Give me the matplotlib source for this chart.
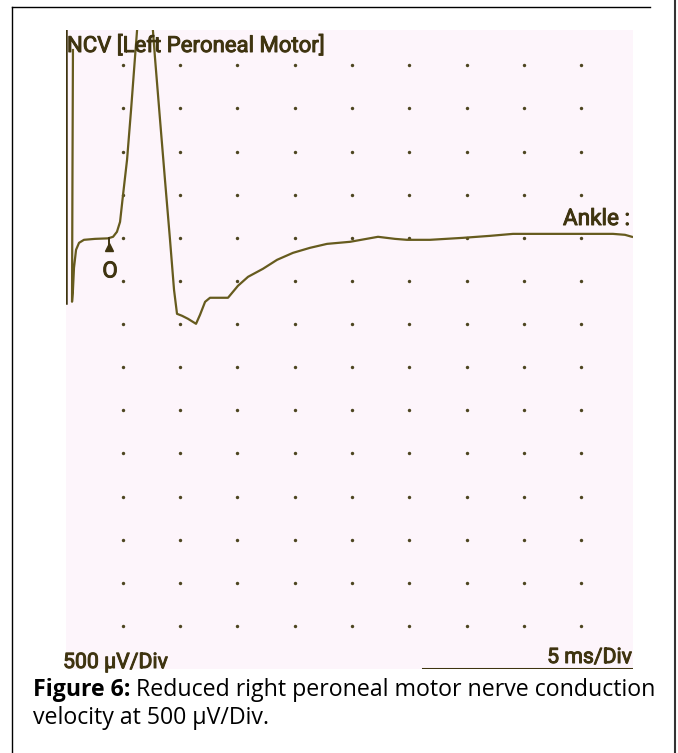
import numpy as np
import matplotlib.pyplot as plt
import matplotlib.patheffects as pe
from matplotlib.lines import Line2D

# trace: time (ms) and amplitude (uV, baseline = 0)
t_ms = [0.65, 0.61, 0.57, 0.65, 0.74, 0.92, 1.18, 1.61, 2.57, 3.71, 4.15, 4.49,
        4.76, 5.02, 5.37, 5.72, 6.06, 6.94, 7.81, 8.25, 8.68, 9.12, 9.47, 9.73,
        10.17, 10.69, 11.39, 11.74, 12.18, 12.61, 13.48, 14.18, 15.05, 15.93,
        17.23, 18.46, 19.85, 21.33, 22.82, 24.83, 27.27, 28.75, 29.80, 31.80,
        34.68, 37.04, 39.05, 42.28, 44.90, 47.77, 48.82, 49.43]
amp_uv = [2178, 788, -741, -603, -348, -139, -58, -23, -12, -6, 12, 70,
          185, 498, 904, 1483, 2086, 3615, 2086, 1367, 672, -23, -603, -881,
          -904, -939, -997, -892, -742, -695, -695, -695, -556, -452,
          -359, -255, -174, -116, -70, -46, 12, -12, -23, -23,
          0, 23, 46, 46, 46, 46, 35, 12]

onset_t = 3.80
onset_uv = -104

ms_per_div = 5
uv_per_div = 500
grid_cols = np.arange(1, 10) * ms_per_div
grid_rows = np.arange(-9, 5) * uv_per_div

W, H = 678, 753
ink = "#3f3410"
trace_col = "#665b1e"

fig = plt.figure(figsize=(W / 100, H / 100), dpi=100)
fig.patch.set_facecolor("white")
r = fig.canvas.get_renderer()

def fx(px):
    return px / W

def fy(py):
    return 1 - py / H

def fit(txt, width_px, size=15):
    # shrink/grow a text so it spans the same width as in the picture
    w = txt.get_window_extent(renderer=r).width
    txt.set_fontsize(size * width_px / w)
    return txt

ax = fig.add_axes([fx(65.5), fy(669), fx(633) - fx(65.5), fy(30) - fy(669)])
ax.set_facecolor("#fdf5fb")
ax.set_xlim(0, (633 - 65.5) / 57.3 * ms_per_div)
ax.set_ylim(-5000, (238 - 30) / 43.15 * uv_per_div)
for s in ax.spines.values():
    s.set_visible(False)
ax.set_xticks([])
ax.set_yticks([])

gx, gy = np.meshgrid(grid_cols, grid_rows)
ax.scatter(gx.ravel(), gy.ravel(), s=6, color="#4d4520", linewidths=0, zorder=2)

ax.plot(t_ms, amp_uv, color=trace_col, lw=1.6, zorder=3, solid_joinstyle="round")

bold_ink = [pe.withStroke(linewidth=0.7, foreground=ink)]
scope_font = ["Roboto", "Liberation Sans"]

# onset marker
ax.plot([onset_t, onset_t], [0, onset_uv], color=ink, lw=1.4, zorder=4)
ax.plot(onset_t, onset_uv, marker="^", ms=5.5, color=ink, zorder=4)
ax.text(onset_t + 0.08, -395, "O", fontsize=16, color=ink, ha="center", va="center",
        family=scope_font, path_effects=bold_ink)

# frame bits of the scope printout
ax.axvline(0, ymin=(5000 - 760) / (5000 + 2410), ymax=1, color=ink, lw=1.8)
ax.axhline(-5000, xmin=(423 - 65.5) / (633 - 65.5), xmax=1, color=ink, lw=2.2)

t1 = fig.text(fx(67), fy(52), "NCV [Left Peroneal Motor]", fontsize=15, color=ink,
              va="baseline", family=scope_font, path_effects=bold_ink)
fit(t1, 258)
t2 = fig.text(fx(630), fy(225), "Ankle :", fontsize=15, color=ink, ha="right",
              va="baseline", family=scope_font, path_effects=bold_ink)
fit(t2, 67)
t3 = fig.text(fx(63), fy(668), "500 \u00b5V/Div", fontsize=15, color=ink,
              va="baseline", family=scope_font, path_effects=bold_ink)
fit(t3, 105)
t4 = fig.text(fx(632), fy(663), "5 ms/Div", fontsize=15, color=ink, ha="right",
              va="baseline", family=scope_font, path_effects=bold_ink)
fit(t4, 85)

# caption
cap_font = ["Open Sans", "DejaVu Sans"]
lbl = fig.text(fx(33), fy(696), "Figure 6:", fontsize=15, fontweight="bold",
               va="baseline", family=cap_font)
rest = fig.text(fx(120), fy(696), "Reduced right peroneal motor nerve conduction",
                fontsize=15, va="baseline", family=cap_font)
w_all = lbl.get_window_extent(renderer=r).width + 5 + rest.get_window_extent(renderer=r).width
cap_size = 15 * 624 / w_all
lbl.set_fontsize(cap_size)
rest.set_fontsize(cap_size)
bb = lbl.get_window_extent(renderer=r)
rest.set_x(bb.x1 / W + fx(5))
fig.text(fx(33), fy(724), "velocity at 500 \u00b5V/Div.", fontsize=cap_size,
         va="baseline", family=cap_font)

# outer box lines
fig.add_artist(Line2D([fx(12), fx(650)], [fy(7), fy(7)], color="black", lw=1))
fig.add_artist(Line2D([fx(12), fx(12)], [fy(7), fy(753)], color="black", lw=1))
fig.add_artist(Line2D([fx(675), fx(675)], [fy(0), fy(753)], color="#333333", lw=1.5))

fig.savefig("out.png", dpi=100)
